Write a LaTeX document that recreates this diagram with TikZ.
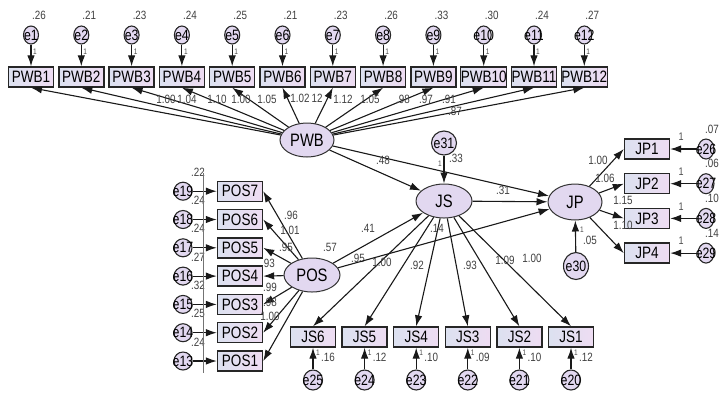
\documentclass[tikz,border=0pt]{standalone}
\usepackage{fontspec}
\setmainfont{Liberation Sans}
\newfontfamily\amos[FakeStretch=0.82]{Liberation Sans}
\usepackage{tikz}
\usetikzlibrary{shapes,arrows,arrows.meta,positioning,calc}
\definecolor{latent}{RGB}{226,216,240}
\definecolor{obsleft}{RGB}{220,225,240}
\definecolor{obsright}{RGB}{238,220,242}
\newcommand{\ev}[1]{\makebox[0pt]{e#1}}

\tikzset{
  obs/.style={draw=black!85,line width=1.4pt,left color=obsleft,right color=obsright,
    minimum width=45pt,minimum height=20pt,inner sep=0pt,font=\amos\fontsize{16.5}{16}\selectfont},
  lat/.style={ellipse,draw=black!80,line width=1pt,fill=latent,minimum width=54pt,
    minimum height=34pt,inner sep=0pt,font=\amos\fontsize{18}{18}\selectfont},
  err/.style={ellipse,draw=black!85,line width=1.1pt,fill=latent,inner sep=0pt,
    font=\amos\fontsize{15}{15}\selectfont},
  reg/.style={-{Latex[length=11pt,width=7.5pt]},line width=1.1pt,black!90},
  est/.style={font=\amos\fontsize{12}{12}\selectfont,text=black!75,inner sep=0pt},
  one/.style={font=\amos\fontsize{8}{8}\selectfont,text=black!70,inner sep=0pt}
}

\begin{document}
\begin{tikzpicture}[x=1pt,y=-1pt]
\useasboundingbox (0,0) rectangle (719,392);

\node[lat] (pwb) at (307,140) {PWB};
\node[lat,minimum width=56pt] (js) at (444,201) {JS};
\node[lat,minimum height=36pt] (jp) at (575,202) {JP};
\node[lat,minimum width=56pt] (pos) at (312,275) {POS};
\node[err,minimum width=25pt,minimum height=24pt] (e31) at (444,143) {\ev{31}};
\node[err,minimum width=25pt,minimum height=27pt] (e30) at (576,266) {\ev{30}};

% PWB indicators
\foreach \i/\vr in {1/.26,2/.21,3/.23,4/.24,5/.25,6/.21,7/.23,8/.26,9/.33,10/.30,11/.24,12/.27} {
  \node[obs] (pwb\i) at ({31+50.3*(\i-1)},77) {PWB\i};
  \node[err,minimum width=15pt,minimum height=18pt] (e\i) at ({31+50.3*(\i-1)},35) {\ev{\i}};
  \node[est] at ($(e\i)+(8,-20)$) {\vr};
  \node[one] at ($(e\i)+(4,17)$) {1};
  \draw[reg] (e\i) -- (pwb\i);
  \draw[reg] (pwb) -- (pwb\i.south);
}
\foreach \x/\y/\t in {166/99/1.00,187/99/1.04,217/99/1.10,241/99/1.00,267/99/1.05,300/98/1.02,
    317/98/12,343/99/1.12,370/99/1.05,403/99/.98,426/99/.97,449/99/.91,455/111/.87}
  \node[est] at (\x,\y) {\t};

% POS indicators
\foreach \k/\vr in {1/.24,2/.25,3/.32,4/.27,5/.24,6/.24,7/.22} {
  \pgfmathtruncatemacro{\n}{12+\k}
  \node[obs] (pos\k) at (240,{361-28.3*(\k-1)}) {POS\k};
  \node[err,minimum width=18pt,minimum height=18pt] (e\n) at (183,{361-28.3*(\k-1)}) {\ev{\n}};
  \node[est] at ($(e\n)+(15,-19)$) {\vr};
  \draw[reg] (e\n) -- (pos\k);
  \draw[reg] (pos) -- (pos\k.east);
}
\draw[black!55,line width=0.4pt] (203,173) -- (203,373);
\foreach \x/\y/\t in {291/215/.96,290/230/1.01,286/247/.95,268/263/.93,270/287/.99,270/302/.98,270/316/1.00}
  \node[est] at (\x,\y) {\t};

% JS indicators
\foreach \k/\vr in {1/.12,2/.10,3/.09,4/.10,5/.12,6/.16} {
  \pgfmathtruncatemacro{\n}{19+\k}
  \node[obs] (js\k) at ({571-51.6*(\k-1)},337) {JS\k};
  \node[err,minimum width=19pt,minimum height=20pt] (e\n) at ({571-51.6*(\k-1)},380) {\ev{\n}};
  \node[est] at ($(e\n)+(15,-23)$) {\vr};
  \node[one] at ($(e\n)+(5,-27)$) {1};
  \draw[reg] (e\n) -- (js\k);
  \draw[reg] (js) -- (js\k.north);
}
\foreach \x/\y/\t in {358/258/.95,382/262/1.00,417/265/.92,470/265/.93,505/260/1.09,532/258/1.00}
  \node[est] at (\x,\y) {\t};

% JP indicators
\foreach \k/\vr in {1/.07,2/.06,3/.10,4/.14} {
  \pgfmathtruncatemacro{\n}{25+\k}
  \node[obs] (jp\k) at (647,{149+34.7*(\k-1)}) {JP\k};
  \node[err,minimum width=16pt,minimum height=20pt] (e\n) at (706,{149+34.7*(\k-1)}) {\ev{\n}};
  \node[est,anchor=east] at ($(e\n)+(13,-20)$) {\vr};
  \node[one,font=\amos\fontsize{11}{11}\selectfont] at ($(jp\k.east)+(11,-12)$) {1};
  \draw[reg] (e\n) -- (jp\k);
  \draw[reg] (jp) -- (jp\k.west);
}
\foreach \x/\y/\t in {598/160/1.00,605/178/1.06,623/200/1.15,623/225/1.10}
  \node[est] at (\x,\y) {\t};

% structural paths
\draw[reg] (pwb) -- (js);
\draw[reg] (pwb) -- (jp);
\draw[reg] (pos) -- (js);
\draw[reg] (pos) -- (jp);
\draw[reg] (js) -- (jp);
\draw[reg] (e31) -- (js);
\draw[reg] (e30) -- (jp);
\node[est] at (383,160) {.48};
\node[est] at (503,190) {.31};
\node[est] at (368,228) {.41};
\node[est] at (437,228) {.14};
\node[est] at (330,247) {.57};
\node[est] at (456,158) {.33};
\node[one] at (440,164) {1};
\node[est] at (590,240) {.05};
\node[one] at (582,230) {1};
\end{tikzpicture}
\end{document}
